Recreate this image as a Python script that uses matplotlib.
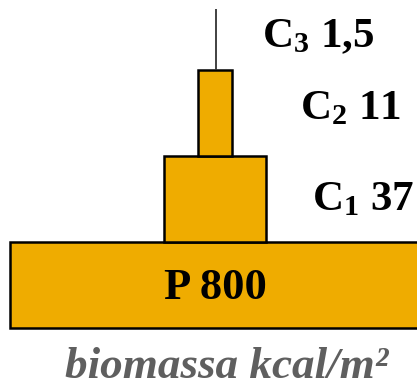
import numpy as np
import matplotlib
matplotlib.use("Agg")
import matplotlib.pyplot as plt

# Piramide della biomassa (kcal/m2)
livelli = ["P", "C1", "C2", "C3"]
biomassa = ["800", "37", "11", "1,5"]
larghezze = [410, 102, 34, 0]      # larghezza disegnata (schematica)
pedici = [None, "1", "2", "3"]

arancio = "#EFAC00"

plt.rcParams["mathtext.fontset"] = "custom"
plt.rcParams["mathtext.rm"] = "Liberation Serif:bold"
plt.rcParams["mathtext.it"] = "Liberation Serif:bold"
plt.rcParams["mathtext.bf"] = "Liberation Serif:bold"

fig = plt.figure(figsize=(4.17, 3.86), dpi=100)
ax = fig.add_axes([0, 0, 1, 1])
ax.set_xlim(-215, 202)
ax.set_ylim(-0.674, 3.81)
ax.axis("off")

y = np.arange(len(livelli))
w = np.array(larghezze, dtype=float)

# barre (solo i primi tre livelli), C3 come linea sottile
ax.barh(y[:3], w[:3], left=-w[:3] / 2, height=1, align="edge",
        color=arancio, edgecolor="black", linewidth=1.8)
ax.vlines(1, y[3], y[3] + 0.7, color="#333333", linewidth=1.3)

# etichetta del produttore dentro la barra
ax.text(0, 0.46, f"{livelli[0]} {biomassa[0]}", ha="center", va="center",
        fontsize=32, fontweight="bold", family="Liberation Serif")

# etichette dei consumatori a destra
pos_x = [None, 97, 85, 47]
pos_y = [None, 1.37, 2.42, 3.26]
for i in range(1, 4):
    ax.text(pos_x[i], pos_y[i], f"C$_{{{pedici[i]}}}$ {biomassa[i]}",
            ha="left", va="baseline", fontsize=31, fontweight="bold",
            family="Liberation Serif")

ax.text(12, -0.58, "biomassa kcal/m²", ha="center", va="baseline",
        fontsize=32.5, fontweight="bold", style="italic",
        family="Liberation Serif", color="#5f5f5f")

fig.savefig("out.png", dpi=100)
